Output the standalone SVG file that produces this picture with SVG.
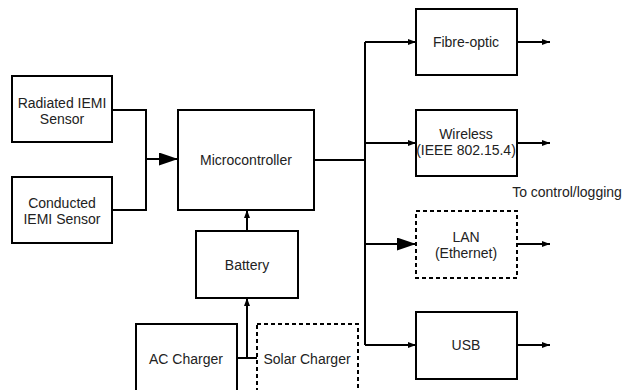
<svg xmlns="http://www.w3.org/2000/svg" width="622" height="390" viewBox="0 0 622 390">
<style>
.box{fill:#fff;stroke:#000;stroke-width:2}
.dash{stroke-dasharray:4 3}
.ln{fill:none;stroke:#000;stroke-width:2}
text{font-family:"Liberation Sans",Arial,sans-serif;font-size:14px;fill:#222;text-anchor:middle}
</style>
<defs>
<marker id="sm" viewBox="0 0 8 6" refX="8" refY="3" markerWidth="8" markerHeight="6" markerUnits="userSpaceOnUse" orient="auto"><path d="M0,0 L8,3 L0,6 Z" fill="#000"/></marker>
<marker id="lg" viewBox="0 0 19 13" refX="19" refY="6.5" markerWidth="19" markerHeight="13" markerUnits="userSpaceOnUse" orient="auto"><path d="M0,0 L19,6.5 L0,13 Z" fill="#000"/></marker>
</defs>
<g id="connectors">
<path class="ln" d="M112,110 H146 V210 H112"/>
<path class="ln" d="M146,159 H178" marker-end="url(#lg)"/>
<path class="ln" d="M314,160 H365"/>
<path class="ln" d="M365,42 V345"/>
<path class="ln" d="M365,42 H416" marker-end="url(#sm)"/>
<path class="ln" d="M365,143 H416" marker-end="url(#sm)"/>
<path class="ln" d="M365,244 H416" marker-end="url(#lg)"/>
<path class="ln" d="M365,345 H416" marker-end="url(#sm)"/>
<path class="ln" d="M517,42 H550" marker-end="url(#sm)"/>
<path class="ln" d="M517,143 H550" marker-end="url(#sm)"/>
<path class="ln" d="M517,244 H550" marker-end="url(#sm)"/>
<path class="ln" d="M517,345 H550" marker-end="url(#sm)"/>
<path class="ln" d="M247,231 V210" marker-end="url(#sm)"/>
<path class="ln" d="M247,358 V298" marker-end="url(#sm)"/>
<path class="ln" d="M237,358 H257"/>
</g>
<g id="radiated"><rect class="box" x="12" y="76" width="100" height="66"/><text x="62" y="108">Radiated IEMI</text><text x="62" y="124">Sensor</text></g>
<g id="conducted"><rect class="box" x="12" y="177" width="100" height="66"/><text x="62" y="208">Conducted</text><text x="62" y="224">IEMI Sensor</text></g>
<g id="microcontroller"><rect class="box" x="178" y="110" width="136" height="100"/><text x="246" y="165">Microcontroller</text></g>
<g id="battery"><rect class="box" x="196" y="231" width="102" height="67"/><text x="247" y="270">Battery</text></g>
<g id="ac-charger"><rect class="box" x="136" y="324" width="101" height="80"/><text x="186" y="364">AC Charger</text></g>
<g id="solar-charger"><rect class="box dash" x="257" y="324" width="101" height="80"/><text x="307" y="364">Solar Charger</text></g>
<g id="fibre-optic"><rect class="box" x="416" y="9" width="101" height="66"/><text x="466" y="47">Fibre-optic</text></g>
<g id="wireless"><rect class="box" x="416" y="110" width="101" height="66"/><text x="466" y="139">Wireless</text><text x="466" y="155">(IEEE 802.15.4)</text></g>
<g id="lan"><rect class="box dash" x="416" y="211" width="101" height="67"/><text x="466" y="242">LAN</text><text x="466" y="258">(Ethernet)</text></g>
<g id="usb"><rect class="box" x="416" y="312" width="101" height="67"/><text x="466" y="350">USB</text></g>
<g id="label"><text x="567" y="197">To control/logging</text></g>
</svg>
